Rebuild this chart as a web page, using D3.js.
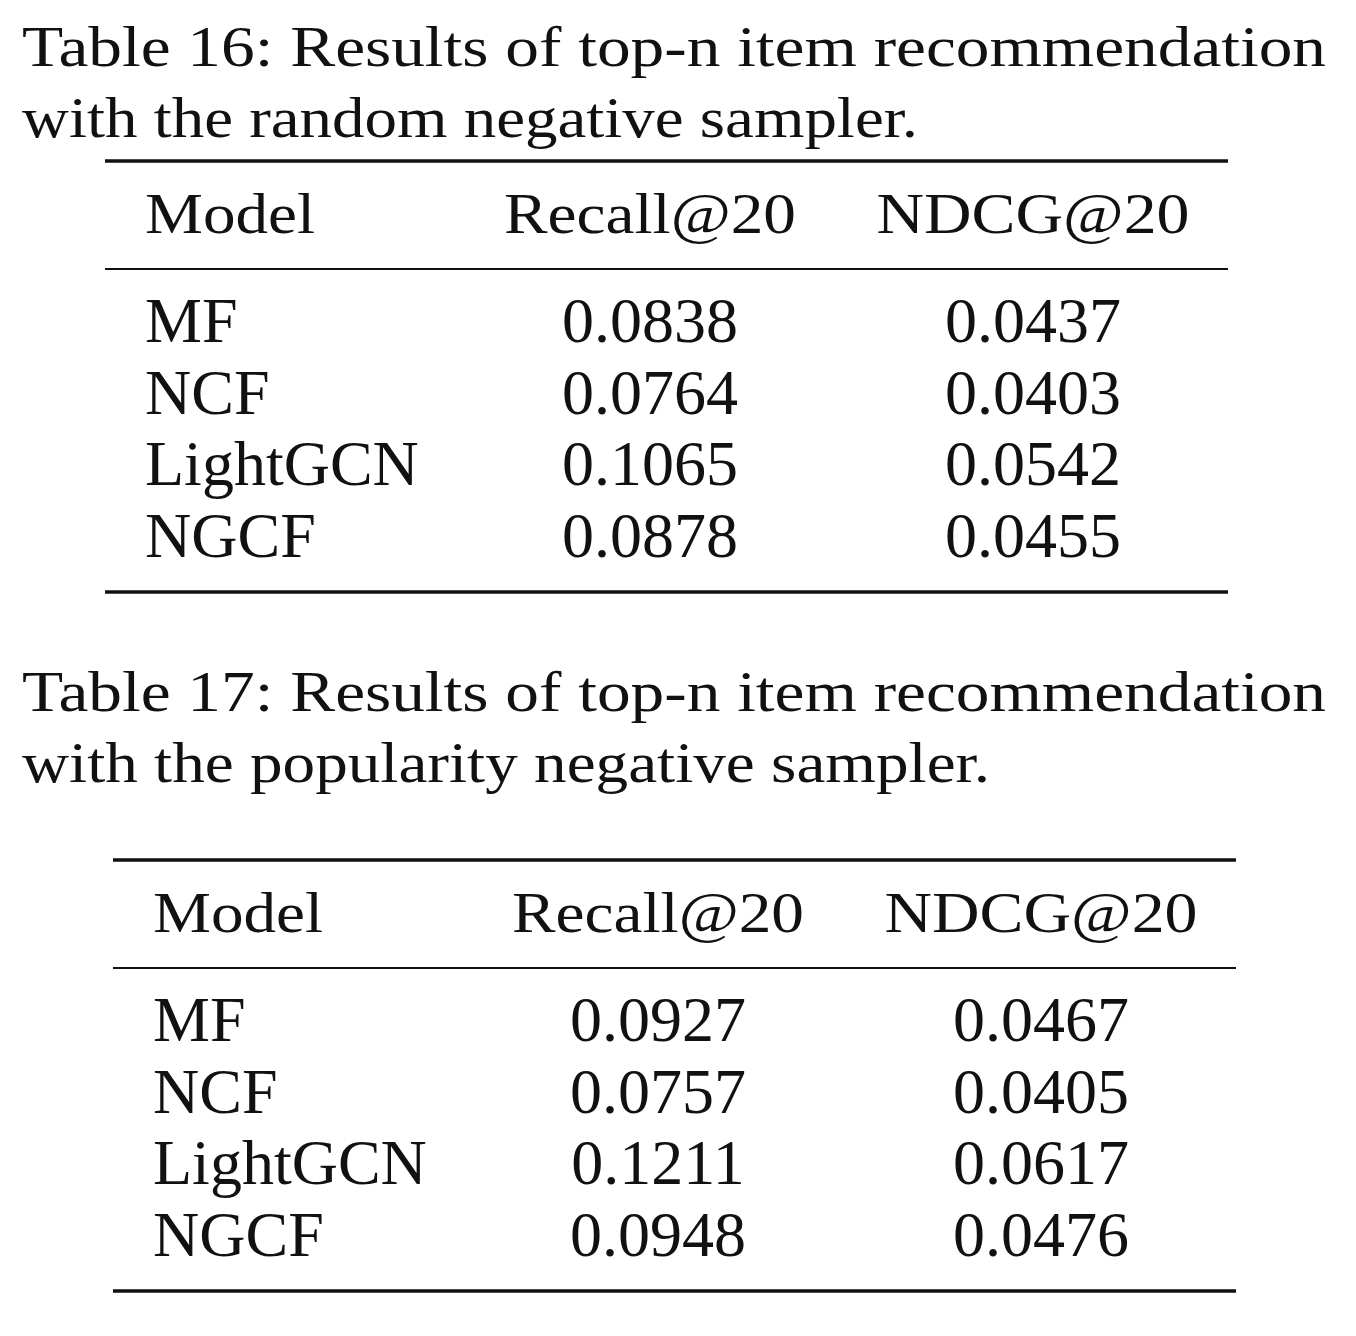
<!DOCTYPE html>
<html><head><meta charset="utf-8">
<script src="https://cdn.jsdelivr.net/npm/d3@7"></script>
<style>body{margin:0;background:#fff}svg{display:block}text{font-family:"Liberation Serif","DejaVu Serif",serif;fill:#111}</style>
</head><body><div id="chart"></div>
<script>
// table data
const models = ["MF", "NCF", "LightGCN", "NGCF"];
const columns = ["Model", "Recall@20", "NDCG@20"];
const recallRandom = ["0.0838", "0.0764", "0.1065", "0.0878"];
const ndcgRandom = ["0.0437", "0.0403", "0.0542", "0.0455"];
const recallPop = ["0.0927", "0.0757", "0.1211", "0.0948"];
const ndcgPop = ["0.0467", "0.0405", "0.0617", "0.0476"];
const captions = [
  ["Table 16: Results of top-n item recommendation", "with the random negative sampler."],
  ["Table 17: Results of top-n item recommendation", "with the popularity negative sampler."]
];

const svg = d3.select("#chart").append("svg").attr("width", 1356).attr("height", 1336);

function table(cfg) {
  const g = svg.append("g");
  g.selectAll(".cap").data(cfg.caption).enter().append("text")
    .attr("x", 22).attr("y", (d, i) => cfg.capY + i * 71)
    .attr("font-size", 58)
    .attr("textLength", (d, i) => i == 0 ? 1304 : cfg.cap2w)
    .attr("lengthAdjust", "spacingAndGlyphs")
    .text(d => d);

  const x0 = cfg.left, x1 = cfg.left + 1123;
  const rules = [[cfg.top, 3.5], [cfg.top + 108, 2.2], [cfg.top + 431, 3.5]];
  g.selectAll(".rule").data(rules).enter().append("line")
    .attr("x1", x0).attr("x2", x1).attr("y1", d => d[0]).attr("y2", d => d[0])
    .attr("stroke", "#111").attr("stroke-width", d => d[1]);

  const cx = [x0 + 40, x0 + 545, x0 + 928];
  const hw = [170, 292, 313];
  g.selectAll(".hd").data(columns).enter().append("text")
    .attr("x", (d, i) => cx[i]).attr("y", cfg.top + 72)
    .attr("text-anchor", (d, i) => i == 0 ? "start" : "middle")
    .attr("font-size", 58)
    .attr("textLength", (d, i) => hw[i]).attr("lengthAdjust", "spacingAndGlyphs")
    .text(d => d);

  const y = d3.scalePoint().domain(models).range([cfg.top + 181, cfg.top + 396]);
  const rows = models.map((m, i) => [m, cfg.recall[i], cfg.ndcg[i]]);
  const rg = g.selectAll(".row").data(rows).enter().append("g")
    .attr("transform", d => `translate(0,${y(d[0])})`);
  rg.selectAll("text").data(d => d).enter().append("text")
    .attr("x", (d, i) => cx[i]).attr("text-anchor", (d, i) => i == 0 ? "start" : "middle")
    .attr("font-size", 64)
    .text(d => d);
}

table({caption: captions[0], cap2w: 896, capY: 66, top: 161, left: 105, recall: recallRandom, ndcg: ndcgRandom});
table({caption: captions[1], cap2w: 968, capY: 711, top: 860, left: 113, recall: recallPop, ndcg: ndcgPop});
</script></body></html>
